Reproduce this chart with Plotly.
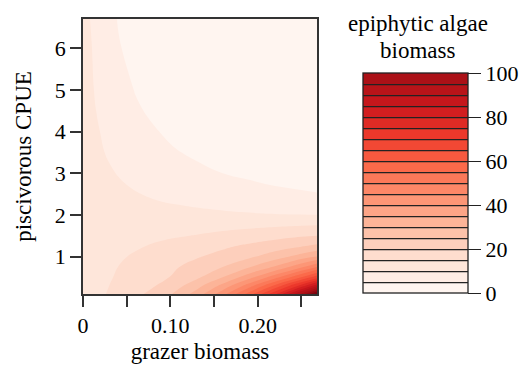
import plotly.graph_objects as go

# grazer biomass (x) and piscivorous CPUE (y) grid
grazer = [0, 0.01, 0.02, 0.03, 0.04, 0.06, 0.08, 0.10, 0.13, 0.16, 0.19, 0.22, 0.25, 0.268]
piscivore = [0.1, 0.3, 0.5, 0.75, 1.0, 1.25, 1.5, 1.75, 2.0, 2.25, 2.5, 2.75, 3.0, 3.5, 4.0, 4.5, 5.0, 6.0, 6.7]

# epiphytic algae biomass, one row per piscivore value
algae = [
    [13.6, 13.9, 14.5, 15.3, 16.5, 18.8, 21.3, 24.5, 32.0, 43.0, 57.0, 74.0, 96.0, 112.0],
    [13.5, 13.7, 14.2, 15.0, 16.0, 17.9, 19.6, 22.0, 28.0, 36.5, 47.5, 61.0, 77.0, 88.0],
    [13.4, 13.5, 13.9, 14.6, 15.5, 17.2, 18.6, 20.1, 24.0, 30.0, 38.0, 48.0, 60.0, 68.0],
    [13.3, 13.35, 13.6, 14.2, 15.0, 16.5, 17.9, 19.2, 21.5, 25.0, 29.5, 35.5, 44.0, 50.0],
    [13.2, 13.2, 13.35, 13.7, 14.3, 15.6, 16.9, 18.1, 19.6, 21.4, 24.0, 27.5, 32.0, 35.0],
    [13.1, 13.05, 13.05, 13.2, 13.5, 14.4, 15.4, 16.4, 17.8, 19.2, 20.8, 22.6, 24.6, 26.0],
    [13.0, 12.9, 12.85, 12.9, 13.0, 13.4, 13.9, 14.4, 15.2, 16.2, 17.2, 18.3, 19.4, 20.0],
    [12.9, 12.7, 12.55, 12.45, 12.4, 12.4, 12.5, 12.7, 13.1, 13.5, 13.9, 14.3, 14.75, 15.0],
    [12.7, 12.45, 12.2, 12.0, 11.8, 11.5, 11.2, 11.0, 10.7, 10.5, 10.3, 10.15, 10.05, 10.0],
    [12.5, 12.2, 11.9, 11.6, 11.35, 10.85, 10.45, 10.1, 9.7, 9.3, 8.9, 8.5, 8.2, 8.0],
    [12.3, 11.95, 11.6, 11.25, 10.9, 10.2, 9.6, 9.0, 8.2, 7.3, 6.5, 5.8, 5.3, 5.1],
    [12.1, 11.7, 11.3, 10.85, 10.35, 9.5, 8.8, 8.1, 7.2, 6.3, 5.3, 4.75, 4.5, 4.4],
    [11.9, 11.4, 10.9, 10.4, 9.85, 8.9, 8.0, 7.2, 6.0, 5.0, 4.5, 4.2, 4.05, 4.0],
    [11.6, 11.0, 10.35, 9.6, 8.9, 7.6, 6.5, 5.5, 4.3, 3.75, 3.5, 3.35, 3.3, 3.25],
    [11.4, 10.8, 9.95, 9.1, 8.3, 6.8, 5.4, 4.3, 3.55, 3.15, 2.95, 2.85, 2.8, 2.75],
    [11.2, 10.5, 9.5, 8.6, 7.7, 5.6, 4.3, 3.6, 3.05, 2.75, 2.6, 2.5, 2.45, 2.4],
    [11.1, 10.3, 9.1, 7.9, 6.9, 4.8, 3.7, 3.1, 2.65, 2.4, 2.25, 2.15, 2.1, 2.05],
    [10.9, 10.04, 8.4, 6.9, 5.3, 3.9, 3.1, 2.65, 2.25, 2.0, 1.85, 1.75, 1.7, 1.65],
    [10.8, 9.8, 7.9, 6.3, 4.85, 3.5, 2.8, 2.4, 2.0, 1.8, 1.65, 1.55, 1.5, 1.45],
]

x_tickvals = [0, 0.05, 0.10, 0.15, 0.20, 0.25]
x_ticktext = ["0", "", "0.10", "", "0.20", ""]
y_tickvals = [1, 2, 3, 4, 5, 6]
cb_tickvals = [0, 20, 40, 60, 80, 100]

# ColorBrewer Reds (full, for the map) and the same scale cut at 95/110 for the colour bar
reds_full = [
    [0.0, "#fff5f0"], [0.125, "#fee0d2"], [0.25, "#fcbba1"], [0.375, "#fc9272"],
    [0.5, "#fb6a4a"], [0.625, "#ef3b2c"], [0.75, "#cb181d"], [0.875, "#a50f15"], [1.0, "#67000d"],
]
reds_bar = [
    [0.0, "#fff5f0"], [0.1447, "#fee0d2"], [0.2895, "#fcbba1"], [0.4342, "#fc9272"],
    [0.5789, "#fb6a4a"], [0.7237, "#ef3b2c"], [0.8684, "#cb181d"], [1.0, "rgb(171,17,23)"],
]

FONT = "Liberation Serif"

fig = go.Figure()
fig.add_trace(go.Contour(
    x=grazer, y=piscivore, z=algae,
    colorscale=reds_full,
    contours=dict(start=5, end=110, size=5, coloring="fill", showlines=False),
    line=dict(width=0, smoothing=1.3), showscale=False, hoverinfo="skip",
))
# companion trace that only supplies the banded colour bar (its data sits out of view)
fig.add_trace(go.Contour(
    x=[10, 11], y=[10, 11], z=[[0, 100], [0, 100]], zmin=0, zmax=100, zauto=False,
    colorscale=reds_bar,
    contours=dict(start=5, end=95, size=5, coloring="fill", showlines=True),
    line=dict(width=1.3, color="#222"), showscale=True, hoverinfo="skip",
    colorbar=dict(
        thickness=105, thicknessmode="pixels", len=220, lenmode="pixels",
        x=1.1966, xanchor="left", y=0.4036, yanchor="middle", xpad=0, ypad=0,
        outlinewidth=1.3, outlinecolor="#222", ticks="outside", ticklen=13,
        tickwidth=1.3, tickcolor="#222", tickvals=cb_tickvals,
        tickfont=dict(family=FONT, size=22, color="black"),
    ),
))

fig.update_layout(
    width=525, height=369,
    margin=dict(l=83, r=208, t=19, b=75, autoexpand=False),
    paper_bgcolor="white", plot_bgcolor="white",
    font=dict(family=FONT, color="black"),
    showlegend=False,
    xaxis=dict(
        range=[0, 0.268], tickvals=x_tickvals, ticktext=x_ticktext,
        ticks="outside", ticklen=11, tickwidth=1.6, tickcolor="#333",
        showline=True, linewidth=1.6, linecolor="#333", mirror=True,
        showgrid=False, zeroline=False,
        tickfont=dict(family=FONT, size=22),
        title=dict(text="grazer biomass", font=dict(family=FONT, size=23), standoff=6),
    ),
    yaxis=dict(
        range=[0.1, 6.7], tickvals=y_tickvals,
        ticks="outside", ticklen=11, tickwidth=1.6, tickcolor="#333",
        showline=True, linewidth=1.6, linecolor="#333", mirror=True,
        showgrid=False, zeroline=False,
        tickfont=dict(family=FONT, size=22),
        title=dict(text="piscivorous CPUE", font=dict(family=FONT, size=23), standoff=17),
    ),
    annotations=[
        dict(text="epiphytic algae", xref="paper", yref="paper", x=1.4316, y=0.982,
             xanchor="center", yanchor="middle", showarrow=False,
             font=dict(family=FONT, size=23, color="black")),
        dict(text="biomass", xref="paper", yref="paper", x=1.4316, y=0.884,
             xanchor="center", yanchor="middle", showarrow=False,
             font=dict(family=FONT, size=23, color="black")),
    ],
)

fig.write_html(
    "out.html",
    config={"displayModeBar": False},
    post_script="document.body.style.margin='0';document.body.style.overflow='hidden';",
)
